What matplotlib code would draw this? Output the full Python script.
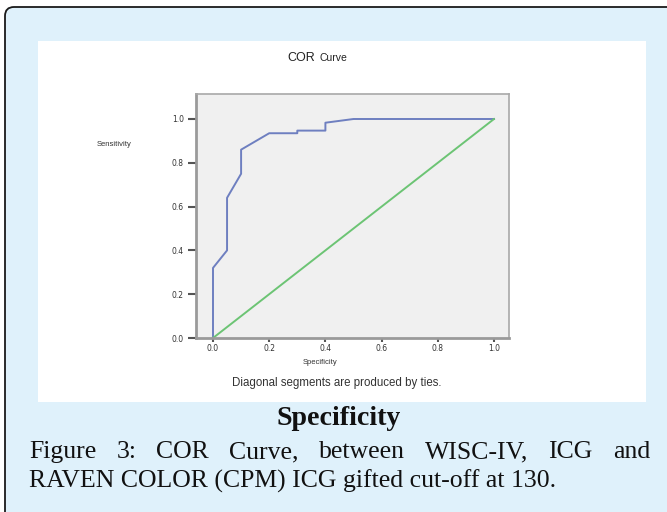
import matplotlib.pyplot as plt
from matplotlib.patches import FancyBboxPatch, Rectangle
from matplotlib.transforms import IdentityTransform

# krzywa ROC
fpr = [0.0, 0.0, 0.05, 0.05, 0.10, 0.10, 0.20, 0.30, 0.30, 0.40, 0.40, 0.50, 1.0]
tpr = [0.0, 0.32, 0.40, 0.64, 0.75, 0.86, 0.935, 0.935, 0.947, 0.947, 0.983, 1.0, 1.0]
ref_x = [0.0, 1.0]
ref_y = [0.0, 1.0]
ticks = [0.0, 0.2, 0.4, 0.6, 0.8, 1.0]
tick_labels = ['0.0', '0.2', '0.4', '0.6', '0.8', '1.0']

caption1 = "Figure 3: COR Curve, between WISC-IV, ICG and"
caption2 = "RAVEN COLOR (CPM) ICG gifted cut-off at 130."

W, H = 667, 512
fig = plt.figure(figsize=(W / 100, H / 100), dpi=100)
fig.patch.set_facecolor('white')


def fx(x):
    return x / W


def fy(y):
    return 1 - y / H


# ramka z jasnoniebieskim tlem
box = FancyBboxPatch((5, -60), 760, H - 7 + 60, boxstyle='round,pad=0,rounding_size=9',
                     transform=IdentityTransform(), fc='#dff1fb', ec='#1a1a1a', lw=1.3, zorder=-3)
fig.add_artist(box)
panel = Rectangle((38, H - 402), 646 - 38, 402 - 41, transform=IdentityTransform(),
                  fc='white', ec='none', zorder=-2)
fig.add_artist(panel)

# wykres
x0, x1 = 213, 494   # piksele dla 0 i 1 na osi x
y0, y1 = 338, 119   # piksele dla 0 i 1 na osi y
left, right, top, bottom = 196, 509, 94, 338
ax = fig.add_axes([fx(left), fy(bottom), (right - left) / W, (bottom - top) / H])
ax.set_facecolor('#f0f0f0')
ax.set_xlim((left - x0) / (x1 - x0), (right - x0) / (x1 - x0))
ax.set_ylim(0, (y0 - top) / (y0 - y1))

ax.plot(fpr, tpr, color='#6e7fc0', lw=1.4)
ax.plot(ref_x, ref_y, color='#6cc474', lw=1.4)

ax.set_xticks(ticks)
ax.set_xticklabels(tick_labels)
ax.set_yticks(ticks)
ax.set_yticklabels(tick_labels)
ax.tick_params(axis='y', direction='out', length=5.8, width=1.5, color='#555555',
               labelsize=5.5, labelcolor='#333333', pad=3)
ax.tick_params(axis='x', direction='out', length=3, width=1.5, color='#555555',
               labelsize=5.5, labelcolor='#333333', pad=1.5)
for s in ['left', 'bottom']:
    ax.spines[s].set_color('#9a9a9a')
    ax.spines[s].set_linewidth(2)
for s in ['top', 'right']:
    ax.spines[s].set_color('#a8a8a8')
    ax.spines[s].set_linewidth(1.2)

sans = 'Liberation Sans'
fig.text(fx(287), fy(61), 'COR', fontsize=9, family=sans, color='#222222', va='baseline', ha='left')
fig.text(fx(320), fy(61), 'Curve', fontsize=7.5, family=sans, color='#222222', va='baseline', ha='left')
fig.text(fx(97), fy(144), 'Sensitivity', fontsize=5.5, family=sans, color='#333333', va='center', ha='left')
fig.text(fx(320), fy(362), 'Specificity', fontsize=5.5, family=sans, color='#333333', va='center', ha='center')
fig.text(fx(337), fy(383), 'Diagonal segments are produced by ties.', fontsize=8.3, family=sans,
         color='#333333', va='center', ha='center')

# podpis - dopasowanie rozmiaru do szerokosci
serif = 'Liberation Serif'
renderer = fig.canvas.get_renderer()
probe = fig.text(0, 0, caption2, fontsize=10, family=serif)
w10 = probe.get_window_extent(renderer).width
probe.remove()
size = 10 * (557 - 29) / w10

fig.text(fx(339), fy(425), 'Specificity', fontsize=size * 1.08, family=serif, weight='bold',
         color='#111111', ha='center', va='baseline')

# pierwsza linia wyjustowana
words = caption1.split()
widths = []
for w in words:
    t = fig.text(0, 0, w, fontsize=size, family=serif)
    widths.append(t.get_window_extent(renderer).width)
    t.remove()
gap = (650 - 29 - sum(widths)) / (len(words) - 1)
xpos = 29
for w, wd in zip(words, widths):
    fig.text(fx(xpos), fy(458), w, fontsize=size, family=serif, color='#111111', ha='left', va='baseline')
    xpos += wd + gap

fig.text(fx(29), fy(488), caption2, fontsize=size, family=serif, color='#111111', ha='left', va='baseline')

fig.savefig('out.png', dpi=100)
